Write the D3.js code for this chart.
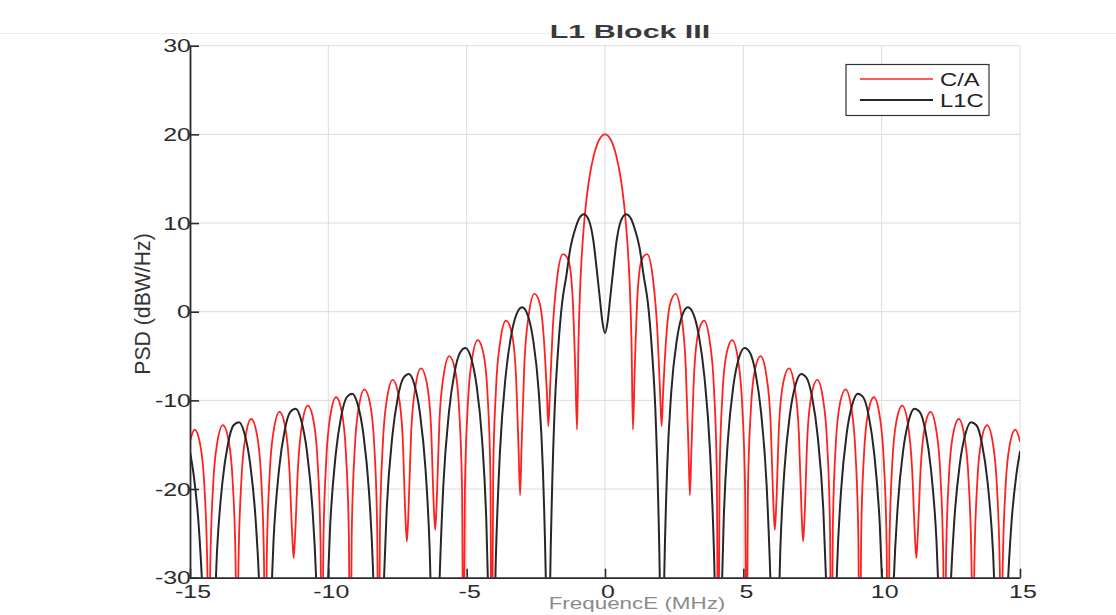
<!DOCTYPE html>
<html>
<head>
<meta charset="utf-8">
<script src="https://cdn.jsdelivr.net/npm/d3@7"></script>
<style>
  body { margin: 0; background: #fff; }
  svg { display: block; font-family: "Liberation Sans", Arial, Helvetica, sans-serif; }
</style>
</head>
<body>
<svg id="chart" width="1116" height="615"></svg>
<script>
// Axis ticks and grid positions
const xTicks = [-15, -10, -5, 0, 5, 10, 15];
const yTicks = [-30, -20, -10, 0, 10, 20, 30];
const xGrid = [-10, -5, 0, 5, 10];
const yGrid = [-20, -10, 0, 10, 20];
const seriesNames = ["C/A", "L1C"];

// C/A code PSD (BPSK(1)), frequency in MHz, PSD in dBW/Hz
const caFreq = [
  -15, -14.834, -14.629, -14.475, -14.373,
  -14.322, -14.271, -14.169, -14.015, -13.811, -13.606, -13.452, -13.35,
  -13.299, -13.248, -13.146, -12.992, -12.788, -12.583, -12.429, -12.327,
  -12.276, -12.225, -12.123, -11.969, -11.765, -11.56, -11.406, -11.304,
  -11.253, -11.202, -11.1, -10.946, -10.742, -10.537, -10.383, -10.281,
  -10.23, -10.179, -10.077, -9.923, -9.719, -9.514, -9.36, -9.258,
  -9.207, -9.156, -9.054, -8.9, -8.696, -8.491, -8.337, -8.235,
  -8.184, -8.133, -8.031, -7.877, -7.673, -7.468, -7.314, -7.212,
  -7.161, -7.11, -7.008, -6.854, -6.65, -6.445, -6.291, -6.189,
  -6.138, -6.087, -5.985, -5.831, -5.627, -5.422, -5.268, -5.166,
  -5.115, -5.064, -4.962, -4.808, -4.6, -4.399, -4.245, -4.143,
  -4.092, -4.041, -3.939, -3.785, -3.58, -3.376, -3.222, -3.12,
  -3.069, -3.018, -2.916, -2.762, -2.55, -2.353, -2.199, -2.097,
  -2.046, -1.995, -1.893, -1.739, -1.52, -1.33, -1.176, -1.074,
  -1.01, -0.96, -0.9, -0.85, -0.8, -0.7, -0.62, -0.55, -0.4, -0.3, -0.2, -0.1,
  0,
  0.1, 0.2, 0.3, 0.4, 0.55, 0.62, 0.7, 0.8, 0.85, 0.9, 0.96, 1.01,
  1.074, 1.176, 1.33, 1.52, 1.739, 1.893, 1.995, 2.046,
  2.097, 2.199, 2.353, 2.55, 2.762, 2.916, 3.018, 3.069,
  3.12, 3.222, 3.376, 3.58, 3.785, 3.939, 4.041, 4.092,
  4.143, 4.245, 4.399, 4.6, 4.808, 4.962, 5.064, 5.115,
  5.166, 5.268, 5.422, 5.627, 5.831, 5.985, 6.087, 6.138,
  6.189, 6.291, 6.445, 6.65, 6.854, 7.008, 7.11, 7.161,
  7.212, 7.314, 7.468, 7.673, 7.877, 8.031, 8.133, 8.184,
  8.235, 8.337, 8.491, 8.696, 8.9, 9.054, 9.156, 9.207,
  9.258, 9.36, 9.514, 9.719, 9.923, 10.077, 10.179, 10.23,
  10.281, 10.383, 10.537, 10.742, 10.946, 11.1, 11.202, 11.253,
  11.304, 11.406, 11.56, 11.765, 11.969, 12.123, 12.225, 12.276,
  12.327, 12.429, 12.583, 12.788, 12.992, 13.146, 13.248, 13.299,
  13.35, 13.452, 13.606, 13.811, 14.015, 14.169, 14.271, 14.322,
  14.373, 14.475, 14.629, 14.834, 15
];
const caPsd = [
  -14.6, -13.3, -15.02, -19.95, -29.11,
  -45, -29.18, -19.88, -14.77, -12.8, -14.51, -19.43, -28.6,
  -45, -28.51, -19.2, -14.08, -12.1, -13.8, -18.71, -27.88,
  -45, -27.73, -18.42, -13.29, -11.3, -12.99, -17.89, -25.3,
  -27.8, -25.3, -17.74, -12.6, -10.6, -12.27, -17.17, -26.32,
  -45, -26.15, -16.82, -11.67, -9.65, -11.31, -16.18, -25.33,
  -45, -25.3, -15.96, -10.79, -8.75, -10.38, -15.24, -24.38,
  -45, -24.31, -14.96, -9.77, -7.7, -9.31, -14.14, -23.26,
  -25.9, -23.08, -13.72, -8.5, -6.4, -7.97, -12.78, -21.88,
  -24.6, -21.78, -12.4, -7.15, -5.0, -6.52, -11.29, -20.36,
  -45, -20.13, -10.71, -5.42, -3.2, -4.65, -9.36, -18.38,
  -45, -18.15, -8.69, -3.32, -1.0, -2.33, -6.94, -15.9,
  -20.7, -15.54, -6.0, -0.51, 2.0, 0.88, -3.55, -9.4,
  -12.9, -9.4, -2.18, 3.57, 6.5, 5.9, 1.95, -6.5,
  -13.3, -3.7, 2.52, 5.77, 8.2, 11.81, 13.91, 15.39, 17.69, 18.73, 19.45, 19.86,
  20,
  19.86, 19.45, 18.73, 17.69, 15.39, 13.91, 11.81, 8.2, 5.77, 2.52, -3.7, -13.3,
  -6.5, 1.95, 5.9, 6.5, 3.57, -2.18, -9.4, -12.9,
  -9.4, -3.55, 0.88, 2.0, -0.51, -6.0, -15.54, -20.7,
  -15.9, -6.94, -2.33, -1.0, -3.32, -8.69, -18.15, -45,
  -18.38, -9.36, -4.65, -3.2, -5.42, -10.71, -20.13, -45,
  -20.36, -11.29, -6.52, -5.0, -7.15, -12.4, -21.78, -24.6,
  -21.88, -12.78, -7.97, -6.4, -8.5, -13.72, -23.08, -25.9,
  -23.26, -14.14, -9.31, -7.7, -9.77, -14.96, -24.31, -45,
  -24.38, -15.24, -10.38, -8.75, -10.79, -15.96, -25.3, -45,
  -25.33, -16.18, -11.31, -9.65, -11.67, -16.82, -26.15, -45,
  -26.32, -17.17, -12.27, -10.6, -12.6, -17.74, -25.3, -27.8,
  -25.3, -17.89, -12.99, -11.3, -13.29, -18.42, -27.73, -45,
  -27.88, -18.71, -13.8, -12.1, -14.08, -19.2, -28.51, -45,
  -28.6, -19.43, -14.51, -12.8, -14.77, -19.88, -29.18, -45,
  -29.11, -19.95, -15.02, -13.3, -14.6
];

// L1C PSD (BOC(1,1)), frequency in MHz, PSD in dBW/Hz
const l1cFreq = [
  -15, -14.872, -14.672, -14.522, -14.422,
  -14.322, -14.176, -14.026, -13.826, -13.626, -13.426, -13.226, -13.026, -12.826, -12.626, -12.476, -12.376,
  -12.276, -12.13, -11.98, -11.78, -11.58, -11.38, -11.18, -10.98, -10.78, -10.58, -10.43, -10.33,
  -10.23, -10.084, -9.934, -9.734, -9.534, -9.334, -9.134, -8.934, -8.734, -8.534, -8.384, -8.284,
  -8.184, -8.038, -7.888, -7.688, -7.488, -7.288, -7.088, -6.888, -6.688, -6.488, -6.338, -6.238,
  -6.138, -5.992, -5.842, -5.642, -5.442, -5.242, -5.042, -4.842, -4.642, -4.442, -4.292, -4.192,
  -4.092, -3.946, -3.796, -3.596, -3.396, -3.196, -2.996, -2.796, -2.596, -2.396, -2.246, -2.146,
  -2.046, -1.98, -1.92, -1.82, -1.7, -1.55, -1.4, -1.25, -1.08, -0.92, -0.76, -0.57, -0.42, -0.3, -0.18, -0.1,
  0,
  0.1, 0.18, 0.3, 0.42, 0.57, 0.76, 0.92, 1.08, 1.25, 1.4, 1.55, 1.7, 1.82, 1.92, 1.98, 2.046,
  2.146, 2.246, 2.396, 2.596, 2.796, 2.996, 3.196, 3.396, 3.596, 3.796, 3.946, 4.092,
  4.192, 4.292, 4.442, 4.642, 4.842, 5.042, 5.242, 5.442, 5.642, 5.842, 5.992, 6.138,
  6.238, 6.338, 6.488, 6.688, 6.888, 7.088, 7.288, 7.488, 7.688, 7.888, 8.038, 8.184,
  8.284, 8.384, 8.534, 8.734, 8.934, 9.134, 9.334, 9.534, 9.734, 9.934, 10.084, 10.23,
  10.33, 10.43, 10.58, 10.78, 10.98, 11.18, 11.38, 11.58, 11.78, 11.98, 12.13, 12.276,
  12.376, 12.476, 12.626, 12.826, 13.026, 13.226, 13.426, 13.626, 13.826, 14.026, 14.176, 14.322,
  14.422, 14.522, 14.672, 14.872, 15
];
const l1cPsd = [
  -15.8, -18.3, -24.7, -33.9, -45.6,
  -50, -39.06, -27.16, -19.18, -14.89, -12.81, -12.46, -13.79, -17.14, -23.55, -32.65, -44.38,
  -50, -37.65, -25.74, -17.74, -13.43, -11.33, -10.95, -12.26, -15.58, -21.96, -31.04, -42.76,
  -50, -36.09, -24.16, -16.12, -11.78, -9.65, -9.24, -10.51, -13.79, -20.14, -29.18, -40.88,
  -50, -34.1, -22.14, -14.06, -9.67, -7.48, -7.02, -8.23, -11.46, -17.74, -26.74, -38.4,
  -50, -31.58, -19.55, -11.39, -6.92, -4.64, -4.08, -5.19, -8.31, -14.47, -23.38, -34.97,
  -50, -27.9, -15.75, -7.42, -2.76, -0.28, 0.49, -0.37, -3.2, -9.0, -17.7, -29.1,
  -50, -30.0, -21.0, -11.0, -4.5, 1.0, 4.0, 7.2, 9.3, 10.6, 11.0, 10.2, 8.0, 4.8, 1.3, -1.0,
  -2.4,
  -1.0, 1.3, 4.8, 8.0, 10.2, 11.0, 10.6, 9.3, 7.2, 4.0, 1.0, -4.5, -11.0, -21.0, -30.0, -50,
  -29.1, -17.7, -9.0, -3.2, -0.37, 0.49, -0.28, -2.76, -7.42, -15.75, -27.9, -50,
  -34.97, -23.38, -14.47, -8.31, -5.19, -4.08, -4.64, -6.92, -11.39, -19.55, -31.58, -50,
  -38.4, -26.74, -17.74, -11.46, -8.23, -7.02, -7.48, -9.67, -14.06, -22.14, -34.1, -50,
  -40.88, -29.18, -20.14, -13.79, -10.51, -9.24, -9.65, -11.78, -16.12, -24.16, -36.09, -50,
  -42.76, -31.04, -21.96, -15.58, -12.26, -10.95, -11.33, -13.43, -17.74, -25.74, -37.65, -50,
  -44.38, -32.65, -23.55, -17.14, -13.79, -12.46, -12.81, -14.89, -19.18, -27.16, -39.06, -50,
  -45.6, -33.9, -24.7, -18.3, -15.8
];

// ---- layout ----
const svg = d3.select("#chart");
const W = 1116, H = 615;
const plot = { left: 190, right: 1020, top: 45.7, bottom: 577.7 };

const x = d3.scaleLinear().domain([-15, 15]).range([plot.left, plot.right]);
const y = d3.scaleLinear().domain([-30, 30]).range([plot.bottom, plot.top]);

svg.append("rect").attr("width", W).attr("height", H).attr("fill", "#fff");
// faint rule across the top of the figure
svg.append("line").attr("x1", 0).attr("x2", W).attr("y1", 33.5).attr("y2", 33.5)
  .attr("stroke", "#eeeeee").attr("stroke-width", 1);

// text drawn with a horizontal stretch
function wideText(g, px, py, str, o) {
  return g.append("text")
    .attr("transform", `translate(${px},${py}) scale(${o.sx || 1},1)`)
    .attr("text-anchor", o.anchor || "middle")
    .attr("font-size", o.size)
    .attr("font-weight", o.weight || "normal")
    .attr("fill", o.fill || "#2b2b2b")
    .text(str);
}

// grid
const grid = svg.append("g").attr("stroke", "#dcdcdc").attr("stroke-width", 1);
grid.selectAll("line.gx").data(xGrid).join("line").attr("class", "gx")
  .attr("x1", d => x(d)).attr("x2", d => x(d)).attr("y1", plot.top).attr("y2", plot.bottom);
grid.selectAll("line.gy").data(yGrid).join("line").attr("class", "gy")
  .attr("x1", plot.left).attr("x2", plot.right).attr("y1", d => y(d)).attr("y2", d => y(d));
// upper and right frame edges
grid.append("line").attr("x1", plot.left).attr("x2", plot.right).attr("y1", plot.top).attr("y2", plot.top);
grid.append("line").attr("x1", plot.right).attr("x2", plot.right).attr("y1", plot.top).attr("y2", plot.bottom);

// curves
svg.append("clipPath").attr("id", "plotClip").append("rect")
  .attr("x", plot.left).attr("y", plot.top)
  .attr("width", plot.right - plot.left).attr("height", plot.bottom - plot.top);

const line = d3.line().x(d => x(d[0])).y(d => y(d[1])).curve(d3.curveMonotoneX);
const curves = svg.append("g").attr("clip-path", "url(#plotClip)").attr("fill", "none")
  .attr("stroke-linejoin", "round").attr("stroke-linecap", "round");

curves.append("path").datum(d3.zip(caFreq, caPsd))
  .attr("d", line).attr("stroke", "#ff2020").attr("stroke-width", 1.8);
curves.append("path").datum(d3.zip(l1cFreq, l1cPsd))
  .attr("d", line).attr("stroke", "#262626").attr("stroke-width", 2);

// axes with inward ticks
const axisColor = "#2b2b2b";
const yAxis = svg.append("g").attr("transform", `translate(${plot.left},0)`)
  .call(d3.axisLeft(y).tickValues(yTicks).tickSize(-9).tickSizeOuter(0).tickFormat(""));
const xAxis = svg.append("g").attr("transform", `translate(0,${plot.bottom})`)
  .call(d3.axisBottom(x).tickValues(xTicks).tickSize(-9).tickSizeOuter(0).tickFormat(""));
[yAxis, xAxis].forEach(a => {
  a.select(".domain").attr("stroke", axisColor).attr("stroke-width", 1.8);
  a.selectAll(".tick line").attr("stroke", axisColor).attr("stroke-width", 1.6);
});

// tick labels
const labels = svg.append("g");
yTicks.forEach(v => wideText(labels, plot.left + 1, y(v) + 6.5, String(v),
  { size: 18.5, sx: 1.35, anchor: "end" }));
xTicks.forEach(v => wideText(labels, x(v) + 3, 598, String(v),
  { size: 18.5, sx: 1.35, anchor: "middle" }));

// title
wideText(svg, 630, 38, "L1 Block III", { size: 19, sx: 1.6, weight: "bold", fill: "#3a3a3a" });

// axis titles
wideText(svg, 637, 609, "FrequencE (MHz)", { size: 16, sx: 1.4, fill: "#8a8a8a" });
svg.append("text")
  .attr("transform", "translate(150,304) rotate(-90) scale(1.25,1.3)")
  .attr("text-anchor", "middle").attr("font-size", 17).attr("fill", "#333")
  .text("PSD (dBW/Hz)");

// legend
const legend = svg.append("g");
legend.append("rect").attr("x", 846).attr("y", 64.5).attr("width", 143).attr("height", 51)
  .attr("fill", "#fff").attr("stroke", "#333").attr("stroke-width", 1.2);
const legendColors = ["#ff2020", "#262626"];
seriesNames.forEach((name, i) => {
  const ly = 79 + i * 21;
  legend.append("line").attr("x1", 860).attr("x2", 933).attr("y1", ly).attr("y2", ly)
    .attr("stroke", legendColors[i]).attr("stroke-width", i ? 1.8 : 1.6);
  wideText(legend, 940, ly + 6.5, name, { size: 19, sx: 1.25, anchor: "start", fill: "#222" });
});
</script>
</body>
</html>
